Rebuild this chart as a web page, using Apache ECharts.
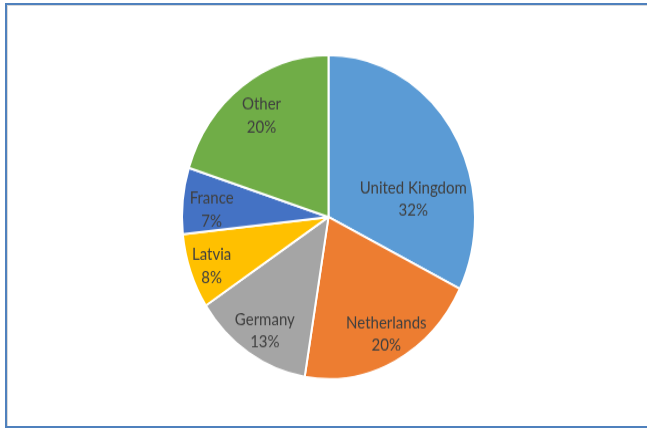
<!DOCTYPE html>
<html>
<head>
<meta charset="utf-8">
<script src="https://cdn.jsdelivr.net/npm/echarts@6/dist/echarts.min.js"></script>
<style>
html,body{margin:0;padding:0;background:#fff;width:647px;height:430px;overflow:hidden;}
#frame{position:absolute;left:5px;top:3px;width:642px;height:425px;border-left:2px solid #4F81BD;border-top:2px solid #4F81BD;border-bottom:2px solid #4F81BD;box-sizing:border-box;box-shadow:inset 1px 1px 0 #d9d9d9;}
#chart{position:absolute;left:0;top:0;width:647px;height:389px;transform:scaleY(1.106);transform-origin:0 0;}
</style>
</head>
<body>
<div id="frame"></div>
<div id="chart"></div>
<script>
var categories = ['United Kingdom', 'Netherlands', 'Germany', 'Latvia', 'France', 'Other'];
var shares = [32.3, 20.3, 13.2, 7.5, 6.6, 20.1];
var colors = ['#5B9BD5', '#ED7D31', '#A5A5A5', '#FFC000', '#4472C4', '#70AD47'];
var labelOffsets = [[20, 24], [23, 38], [-22, 39], [-45, 19], [-41, 1], [-22, -30]];

var chart = echarts.init(document.getElementById('chart'), null, {renderer: 'canvas'});
chart.setOption({
  animation: false,
  series: [{
    type: 'pie',
    center: [328.5, 196.2],
    radius: [0, 146.5],
    startAngle: 90,
    clockwise: true,
    avoidLabelOverlap: false,
    itemStyle: {borderColor: '#ffffff', borderWidth: 2},
    label: {
      show: true,
      position: 'inside',
      formatter: function (p) { return p.name + '\n' + Math.round(p.value) + '%'; },
      color: '#404040',
      fontFamily: 'Lato, "Open Sans", sans-serif',
      fontSize: 15,
      lineHeight: 20.5
    },
    labelLine: {show: false},
    emphasis: {disabled: true},
    data: categories.map(function (c, i) {
      return {
        name: c,
        value: shares[i],
        itemStyle: {color: colors[i]},
        label: {offset: labelOffsets[i]}
      };
    })
  }]
});
</script>
</body>
</html>
